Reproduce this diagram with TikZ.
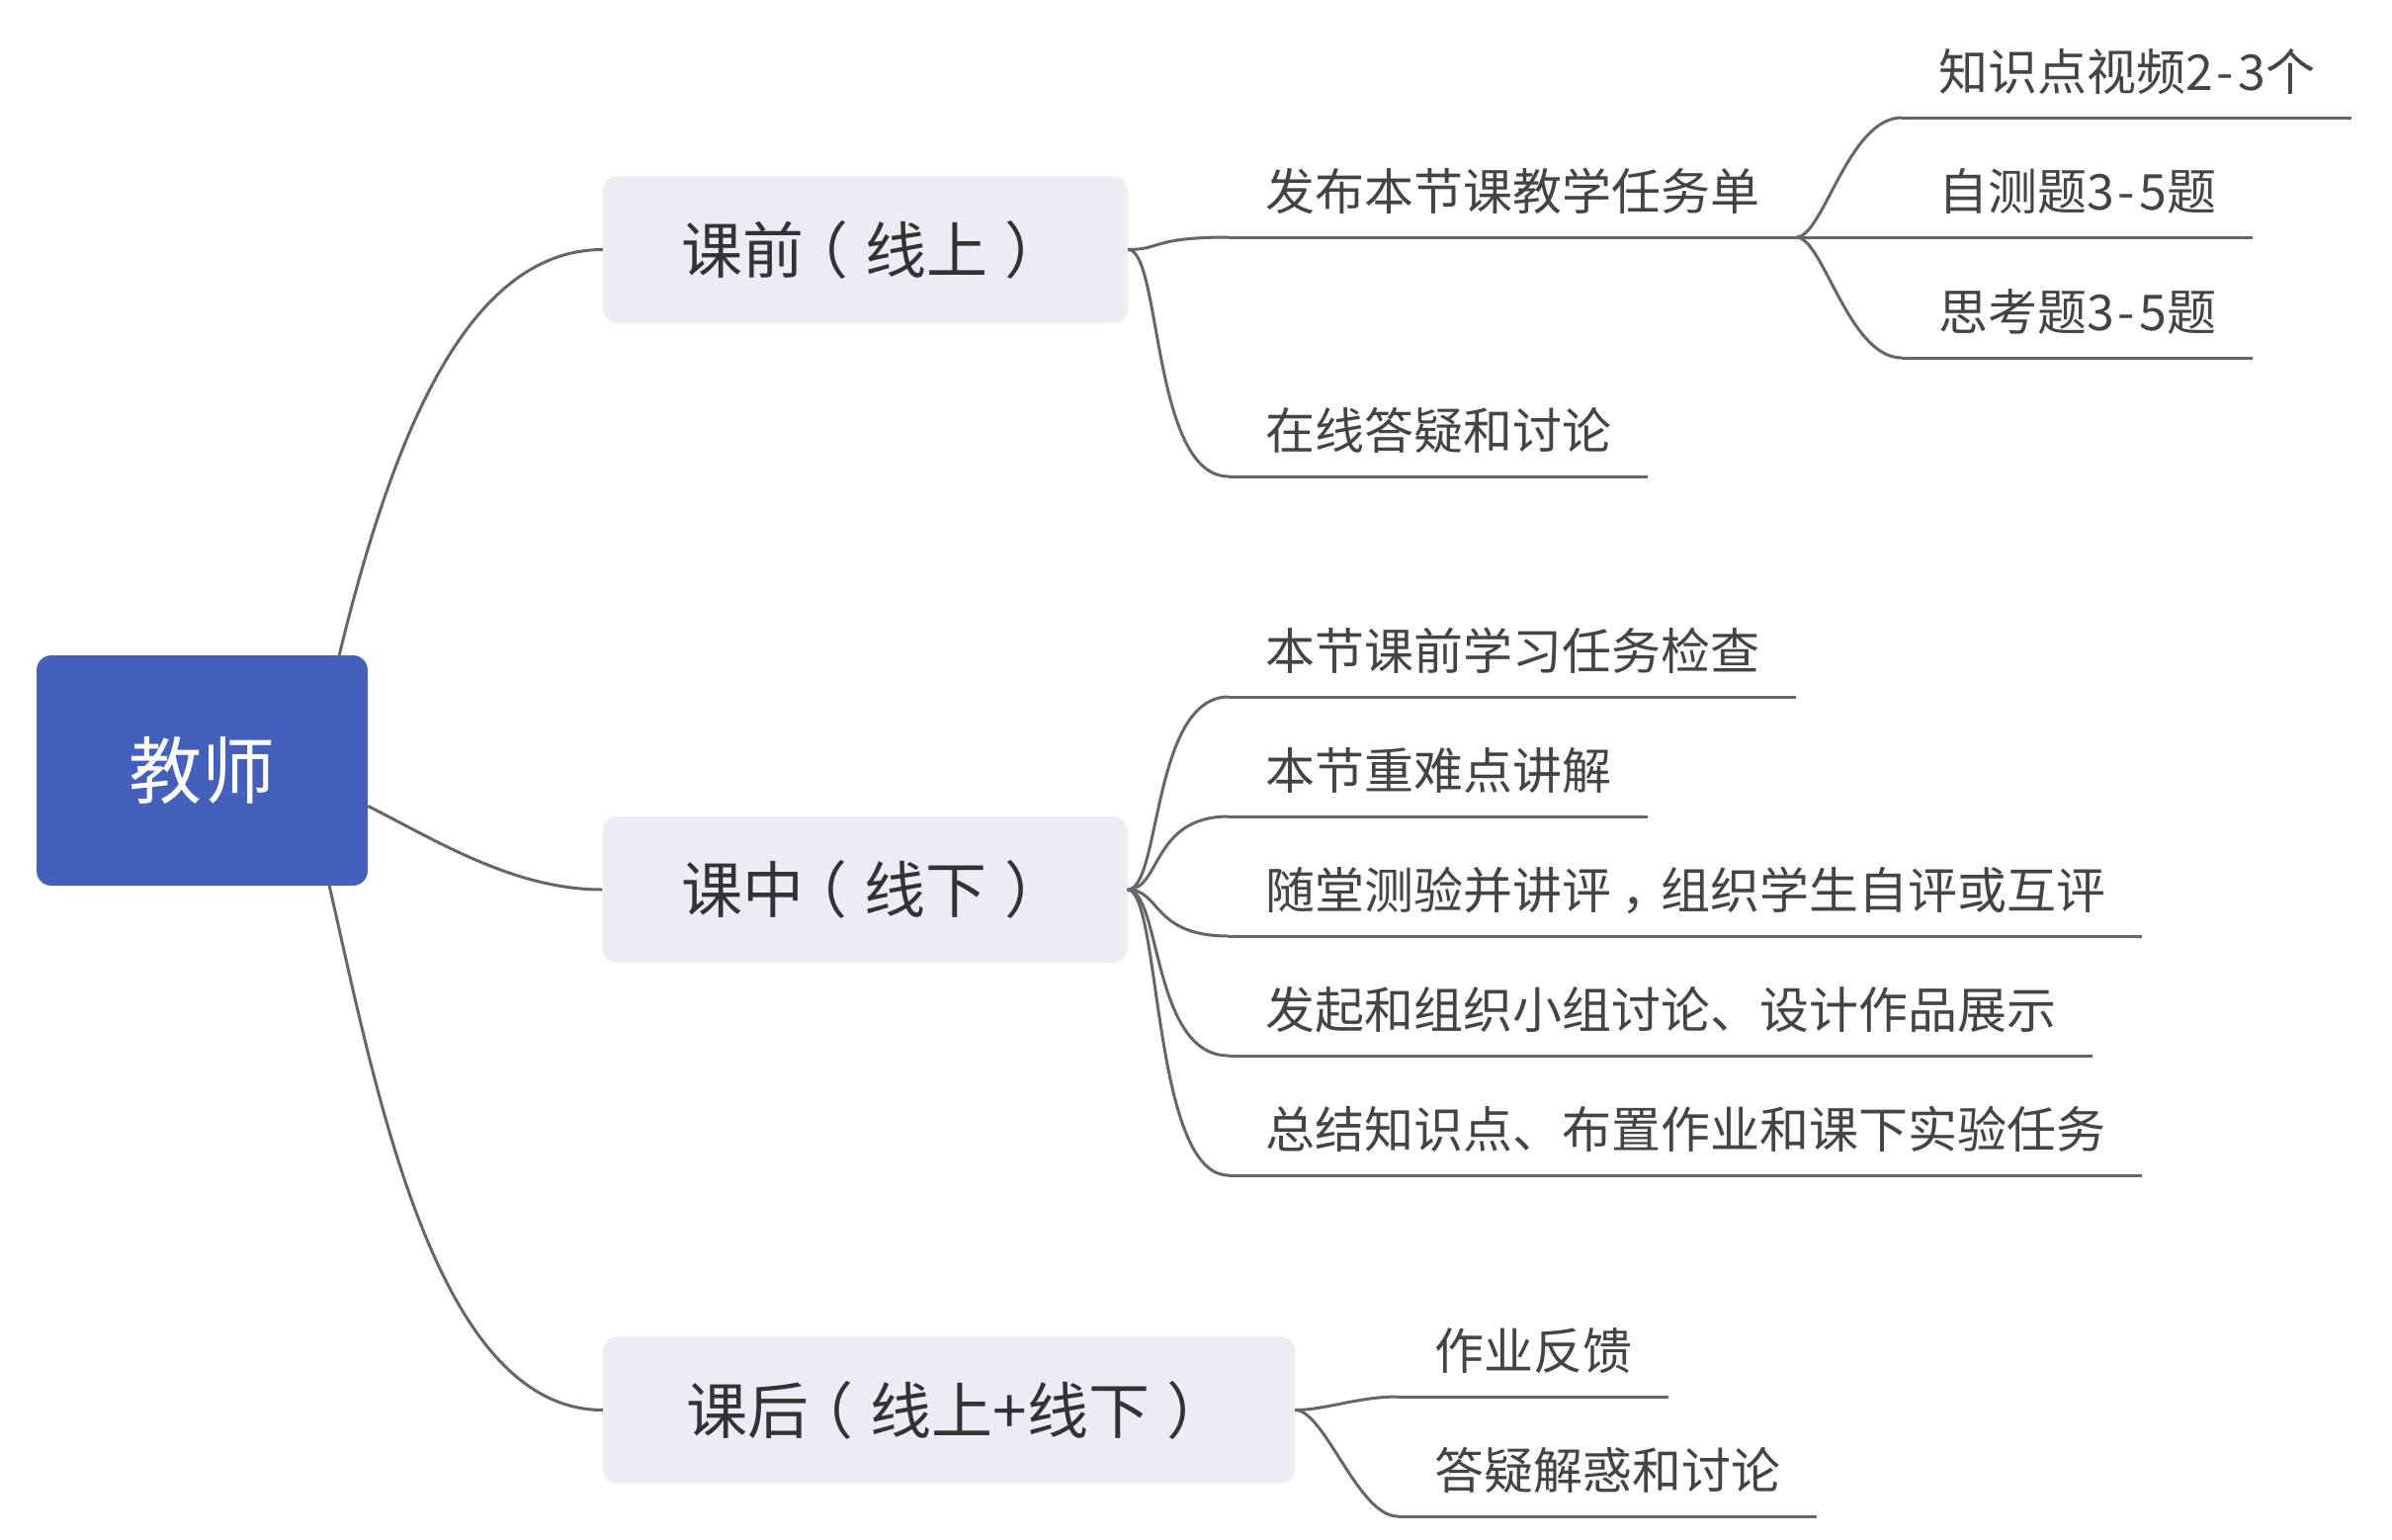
\documentclass[tikz,border=0pt]{standalone}
\usepackage{fontspec}
\setmainfont{Noto Sans CJK SC}
\definecolor{rootfill}{RGB}{66,96,188}
\definecolor{mainfill}{RGB}{235,236,244}
\definecolor{maintext}{RGB}{51,51,51}
\definecolor{leaftext}{RGB}{68,68,68}
\definecolor{linegray}{RGB}{102,102,102}
\newcommand{\mylp}{\kern-0.28em（\kern0.28em}
\newcommand{\myrp}{\kern0.28em）\kern-0.28em}
\newcommand{\mycomma}{\kern0.2em，\kern-0.2em}
\newcommand{\myhy}{\kern0.08em-\kern0.08em}
\begin{document}
\begin{tikzpicture}[x=1pt,y=-1pt,
  rootbox/.style={fill=rootfill, rounded corners=15pt, minimum width=335pt, minimum height=233pt, inner sep=0pt, text=white, font=\fontsize{74pt}{80pt}\selectfont, text height=56pt, text depth=0pt},
  mainbox/.style={fill=mainfill, rounded corners=14pt, minimum width=531pt, minimum height=148pt, inner sep=0pt, text=maintext, font=\fontsize{62pt}{70pt}\selectfont, text height=47pt, text depth=0pt},
  leaf/.style={anchor=south west, inner xsep=37pt, inner ysep=27pt, text height=36pt, text depth=0pt, text=leaftext, font=\fontsize{50pt}{60pt}\selectfont},
  conn/.style={draw=linegray, line width=3pt}]
\useasboundingbox (0,0) rectangle (2420,1558);
\fill[white] (0,0) rectangle (2420,1558);

% nodes
\node[rootbox] (root) at (204.5,779.5) {教师};
\node[mainbox] (kq) at (875.5,252.5) {课前\mylp 线上\myrp};
\node[mainbox] (kz) at (875,900) {课中\mylp 线下\myrp};
\node[mainbox, minimum width=700pt] (kh) at (960,1426.5) {课后\mylp 线上+线下\myrp};

\node[leaf] (a1) at (1243,240) {发布本节课教学任务单};
\node[leaf] (a2) at (1243,482) {在线答疑和讨论};
\node[leaf] (s1) at (1924,119) {知识点视频2\myhy 3个};
\node[leaf] (s2) at (1924,240) {自测题3\myhy 5题};
\node[leaf] (s3) at (1924,362) {思考题3\myhy 5题};

\node[leaf] (b1) at (1243,705) {本节课前学习任务检查};
\node[leaf] (b2) at (1243,826) {本节重难点讲解};
\node[leaf] (b3) at (1243,947) {随堂测验并讲评\mycomma 组织学生自评或互评};
\node[leaf] (b4) at (1243,1068) {发起和组织小组讨论、设计作品展示};
\node[leaf] (b5) at (1243,1189) {总结知识点、布置作业和课下实验任务};

\node[leaf] (c1) at (1414,1413) {作业反馈};
\node[leaf] (c2) at (1414,1534) {答疑解惑和讨论};

% root connectors
\draw[conn] ([xshift=-29pt]root.north east) .. controls +(52,-213) and +(-140,0) .. (kq.west);
\draw[conn] ([yshift=-36pt]root.east) .. controls +(68,34) and +(-90,0) .. (kz.west);
\draw[conn] ([xshift=-39pt]root.south east) .. controls +(47,204) and +(-170,0) .. (kh.west);

% level 1 -> level 2
\foreach \n in {a1,a2}
  \draw[conn] (kq.east) .. controls +(34,0) and +(-78,0) .. (\n.south west);
\foreach \n in {b1,b2,b3,b4,b5}
  \draw[conn] (kz.east) .. controls +(34,0) and +(-78,0) .. (\n.south west);
\foreach \n in {c1,c2}
  \draw[conn] (kh.east) .. controls +(30,0) and +(-40,0) .. (\n.south west);
\foreach \n in {s1,s2,s3}
  \draw[conn] (a1.south east) .. controls +(27,0) and +(-54,0) .. (\n.south west);

% underlines
\foreach \n in {a1,a2,s1,s2,s3,b1,b2,b3,b4,b5,c1,c2}
  \draw[conn] (\n.south west) -- (\n.south east);
\end{tikzpicture}
\end{document}
